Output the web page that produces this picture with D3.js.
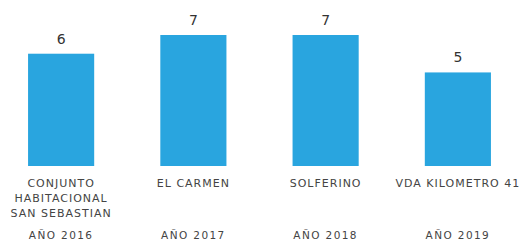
<!DOCTYPE html>
<html>
<head>
<meta charset="utf-8">
<script src="https://cdn.jsdelivr.net/npm/d3@7"></script>
<style>
  body { margin: 0; background: #fff; }
  text { font-family: "DejaVu Sans", sans-serif; fill: #444; }
</style>
</head>
<body>
<div id="chart"></div>
<script>
// data
const places = [
  ["CONJUNTO", "HABITACIONAL", "SAN SEBASTIAN"],
  ["EL CARMEN"],
  ["SOLFERINO"],
  ["VDA KILOMETRO 41"]
];
const years = ["AÑO 2016", "AÑO 2017", "AÑO 2018", "AÑO 2019"];
const counts = [6, 7, 7, 5];

const width = 527, height = 243;
const baseline = 166;

const svg = d3.select("#chart").append("svg")
  .attr("width", width)
  .attr("height", height);

const x = d3.scaleBand()
  .domain(years)
  .range([-5, 524])
  .paddingInner(0.5)
  .paddingOuter(0.25);

// 7 -> 131px high
const y = d3.scaleLinear()
  .domain([0, 7])
  .range([baseline, 35]);

const g = svg.append("g");

// bars
g.selectAll("rect")
  .data(counts)
  .join("rect")
  .attr("x", (d, i) => x(years[i]))
  .attr("y", d => y(d))
  .attr("width", x.bandwidth())
  .attr("height", d => y(0) - y(d))
  .attr("fill", "#29a5df");

// value labels
g.selectAll(".val")
  .data(counts)
  .join("text")
  .attr("class", "val")
  .attr("x", (d, i) => x(years[i]) + x.bandwidth() / 2)
  .attr("y", d => y(d) - 10)
  .attr("text-anchor", "middle")
  .style("font-size", "14px")
  .style("fill", "#333")
  .text(d => d);

// place names, one line per tspan
const names = g.selectAll(".name")
  .data(places)
  .join("text")
  .attr("class", "name")
  .attr("text-anchor", "middle")
  .style("font-size", "11px")
  .style("letter-spacing", "1px");

names.selectAll("tspan")
  .data((d, i) => d.map(t => ({ t, i })))
  .join("tspan")
  .attr("x", d => x(years[d.i]) + x.bandwidth() / 2)
  .attr("y", (d, j) => 187 + j * 15)
  .text(d => d.t);

// year labels along the bottom
g.selectAll(".year")
  .data(years)
  .join("text")
  .attr("class", "year")
  .attr("x", d => x(d) + x.bandwidth() / 2)
  .attr("y", 239)
  .attr("text-anchor", "middle")
  .style("font-size", "10.5px")
  .style("letter-spacing", "1.4px")
  .text(d => d);
</script>
</body>
</html>
